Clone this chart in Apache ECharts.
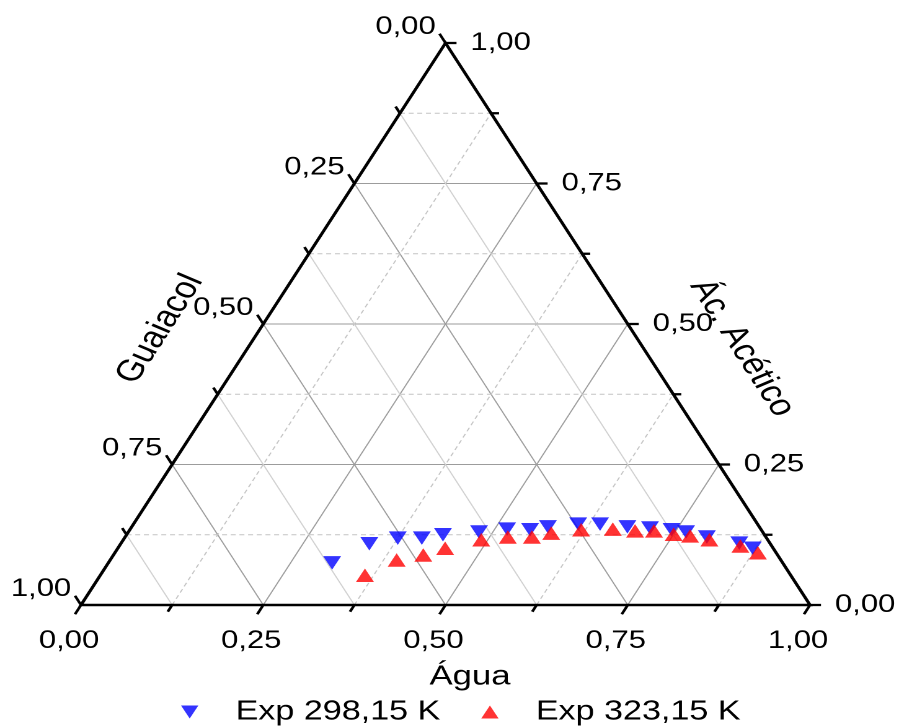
<!DOCTYPE html>
<html><head><meta charset="utf-8">
<script src="https://cdn.jsdelivr.net/npm/echarts@6/dist/echarts.min.js"></script>
<style>
html,body{margin:0;padding:0;background:#fff;overflow:hidden;width:898px;height:727px}
#main{height:727px;transform-origin:0 0}
</style></head><body><div id="main"></div>
<script>
// ---- data (ternary fractions) ----
const tickValues = [0, 0.25, 0.5, 0.75, 1];
const tickLabels = ['0,00', '0,25', '0,50', '0,75', '1,00'];
const minorTickValues = [0.125, 0.375, 0.625, 0.875];
const axisTitles = ['Água', 'Guaiacol', 'Ác. Acético'];
const seriesNames = ['Exp 298,15 K', 'Exp 323,15 K'];

const agua298    = [0.307, 0.341, 0.375, 0.408, 0.434, 0.481, 0.517, 0.549, 0.571, 0.610, 0.640, 0.680, 0.712, 0.743, 0.765, 0.798, 0.848, 0.871];
const acetico298 = [0.075, 0.109, 0.119, 0.119, 0.125, 0.130, 0.135, 0.134, 0.139, 0.144, 0.144, 0.139, 0.137, 0.134, 0.130, 0.121, 0.110, 0.101];

const agua323    = [0.363, 0.393, 0.425, 0.449, 0.491, 0.525, 0.558, 0.581, 0.619, 0.662, 0.694, 0.720, 0.750, 0.774, 0.804, 0.852, 0.882];
const acetico323 = [0.053, 0.080, 0.089, 0.101, 0.116, 0.121, 0.121, 0.128, 0.134, 0.135, 0.132, 0.132, 0.126, 0.123, 0.116, 0.105, 0.093];

// ---- ternary -> cartesian helper (Água along bottom, Ác. Acético up) ----
function toXY(w, a) { return [w + a / 2, a]; }

const FONT = "'Liberation Sans', Arial, sans-serif";
const S = 1.24; // horizontal stretch of the reference picture
const main = document.getElementById('main');
main.style.width = (898 / S) + 'px';
main.style.transform = 'scaleX(' + S + ')';
const px = v => v / S; // page x -> chart x

// grid lines
const gridStyles = [
  { stroke: '#9c9c9c', lineWidth: 1 },
  { stroke: '#d0d0d0', lineWidth: 1 },
  { stroke: '#c4c4c4', lineWidth: 1, lineDash: [4, 3] }
];
const gridData = [];
function pushSeg(p1, p2, k) { gridData.push([p1[0], p1[1], p2[0], p2[1], k]); }
tickValues.slice(1, 4).forEach(t => {
  pushSeg(toXY(0, t), toXY(1 - t, t), 0);
  pushSeg(toXY(t, 0), toXY(t, 1 - t), 0);
  pushSeg(toXY(1 - t, 0), toXY(0, 1 - t), 0);
});
minorTickValues.forEach(t => {
  pushSeg(toXY(0, t), toXY(1 - t, t), 2);
  pushSeg(toXY(t, 0), toXY(t, 1 - t), 2);
  pushSeg(toXY(1 - t, 0), toXY(0, 1 - t), 1);
});

// ticks
const tickData = [];
function addTicks(vals, L) {
  const d = L / 670, e = L / 729;
  vals.forEach(t => {
    tickData.push([t, 0, t - d / 2, -d]);
    tickData.push([(1 - t) / 2, 1 - t, (1 - t) / 2 - d / 2, 1 - t + d]);
    tickData.push([1 - t / 2, t, 1 - t / 2 + e, t]);
  });
}
addTicks(tickValues, 11);
addTicks(minorTickValues, 8);

// tick labels: [x, y, side, labelIndex]
const labelData = [];
tickValues.forEach((t, i) => {
  labelData.push([t, 0, 0, i]);
  labelData.push([(1 - t) / 2, 1 - t, 1, i]);
  labelData.push([1 - t / 2, t, 2, i]);
});
const labelPlace = [
  { dx: px(-12), dy: 36, align: 'center' },
  { dx: px(-40), dy: -16, align: 'center' },
  { dx: px(25), dy: 0, align: 'left' }
];

const frame = [toXY(0, 0), toXY(1, 0), toXY(0, 1)];
const rot = Math.atan2(562, 364.5 / S);

const chart = echarts.init(main, null, { renderer: 'canvas', devicePixelRatio: 2 });
chart.setOption({
  backgroundColor: '#fff',
  animation: false,
  grid: { left: px(81), top: 43, width: px(729), height: 562 },
  xAxis: { type: 'value', min: 0, max: 1, show: false },
  yAxis: { type: 'value', min: 0, max: 1, show: false },
  legend: {
    data: [
      { name: seriesNames[0], icon: 'path://M0,0L14,0L7,13Z' },
      { name: seriesNames[1], icon: 'path://M7,0L14,13L0,13Z' }
    ],
    left: px(181), top: 698, padding: 0,
    itemWidth: 14, itemHeight: 13, itemGap: 33,
    textStyle: { fontSize: 27.5, fontFamily: FONT, color: '#000', padding: [0, 0, 0, 25] }
  },
  graphic: [
    { type: 'text', x: px(470), y: 677, style: { text: axisTitles[0], fontSize: 28, fontFamily: FONT, fill: '#000', align: 'center', verticalAlign: 'middle' } },
    { type: 'text', x: px(160), y: 329, rotation: rot, style: { text: axisTitles[1], fontSize: 30, fontFamily: FONT, fill: '#000', align: 'center', verticalAlign: 'middle' } },
    { type: 'text', x: px(742), y: 348, rotation: -rot, style: { text: axisTitles[2], fontSize: 30, fontFamily: FONT, fill: '#000', align: 'center', verticalAlign: 'middle' } }
  ],
  series: [
    {
      type: 'custom', name: 'grid', silent: true, z: 1,
      data: gridData,
      renderItem(params, api) {
        const p1 = api.coord([api.value(0), api.value(1)]);
        const p2 = api.coord([api.value(2), api.value(3)]);
        return { type: 'line', shape: { x1: p1[0], y1: p1[1], x2: p2[0], y2: p2[1] }, style: gridStyles[api.value(4)] };
      }
    },
    {
      type: 'custom', name: 'frame', silent: true, z: 2,
      data: [0],
      renderItem(params, api) {
        const pts = frame.map(p => api.coord(p));
        return { type: 'polygon', shape: { points: pts }, style: { fill: 'none', stroke: '#000', lineWidth: 2.6, lineJoin: 'miter' } };
      }
    },
    {
      type: 'custom', name: 'ticks', silent: true, z: 2,
      data: tickData,
      renderItem(params, api) {
        const p1 = api.coord([api.value(0), api.value(1)]);
        const p2 = api.coord([api.value(2), api.value(3)]);
        return { type: 'line', shape: { x1: p1[0], y1: p1[1], x2: p2[0], y2: p2[1] }, style: { stroke: '#000', lineWidth: 2.3 } };
      }
    },
    {
      type: 'custom', name: 'tickLabels', silent: true, z: 3,
      data: labelData,
      renderItem(params, api) {
        const p = api.coord([api.value(0), api.value(1)]);
        const pl = labelPlace[api.value(2)];
        return { type: 'text', x: p[0] + pl.dx, y: p[1] + pl.dy,
          style: { text: tickLabels[api.value(3)], fontSize: 25, fontFamily: FONT, fill: '#000', align: pl.align, verticalAlign: 'middle' } };
      }
    },
    {
      type: 'scatter', name: seriesNames[0], z: 5,
      symbol: 'triangle', symbolRotate: 180, symbolSize: [14.5, 13.5],
      itemStyle: { color: '#0000ff' },
      data: agua298.map((w, i) => toXY(w, acetico298[i]))
    },
    {
      type: 'scatter', name: seriesNames[1], z: 5,
      symbol: 'triangle', symbolSize: [14.5, 13.5],
      itemStyle: { color: '#ff0000' },
      data: agua323.map((w, i) => toXY(w, acetico323[i]))
    }
  ]
});
</script></body></html>
